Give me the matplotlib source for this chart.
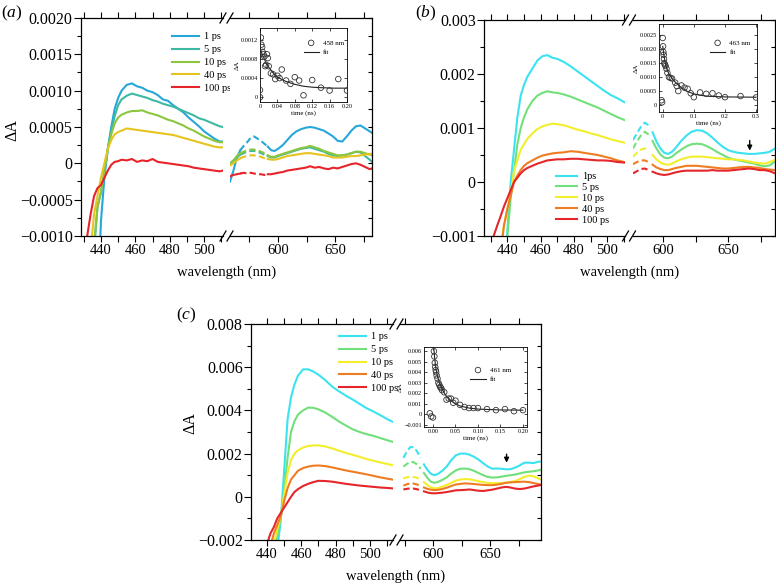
import numpy as np
import matplotlib
matplotlib.use('Agg')
import matplotlib.pyplot as plt
from matplotlib.lines import Line2D
from matplotlib.ticker import MultipleLocator

plt.rcParams['font.family'] = ['Liberation Serif', 'DejaVu Serif']
plt.rcParams['mathtext.fontset'] = 'custom'
plt.rcParams['mathtext.rm'] = 'Liberation Serif'
plt.rcParams['mathtext.it'] = 'Liberation Serif:italic'

# ---------------- data ----------------
delays = ['1 ps', '5 ps', '10 ps', '40 ps', '100 ps']
delays_b = ['1ps', '5 ps', '10 ps', '40 ps', '100 ps']
colors_a = ['#27a7d8', '#3db9a3', '#8cc63f', '#e6c41f', '#e8232a']
colors_bc = ['#3be3f0', '#72e07a', '#f2ee2c', '#f07c22', '#e5262b']

# panel (a)
wl_a_l = [432, 434, 436, 438, 440, 442, 444, 446, 448, 450, 452, 455, 458, 461, 464, 467, 470,
          473, 476, 479, 482, 485, 488, 491, 494, 497, 500, 503, 506, 509, 511]
a1_l = [-0.006, -0.005, -0.0035, -0.002, -0.0008, -0.0002, 0.0002, 0.0005, 0.00075, 0.0009, 0.001,
        0.00108, 0.0011, 0.00106, 0.00104, 0.001, 0.00098, 0.00094, 0.00088, 0.00086, 0.0008, 0.00075,
        0.0007, 0.00063, 0.00057, 0.00051, 0.00044, 0.00039, 0.00034, 0.0003, 0.0003]
a5_l = [-0.003, -0.0022, -0.0012, -0.0006, -0.0004, -0.0001, 0.0002, 0.00045, 0.00065, 0.0008, 0.00088,
        0.00093, 0.00096, 0.00094, 0.00092, 0.0009, 0.00087, 0.00085, 0.00082, 0.0008, 0.00078, 0.00075,
        0.00072, 0.00069, 0.00066, 0.00062, 0.0006, 0.00057, 0.00054, 0.00051, 0.0005]
a10_l = [-0.0025, -0.0018, -0.0011, -0.0006, -0.0004, -0.0001, 0.0002, 0.0004, 0.00055, 0.00063, 0.00067,
         0.0007, 0.00072, 0.00072, 0.00073, 0.0007, 0.00068, 0.00066, 0.00063, 0.0006, 0.00058, 0.00055,
         0.00052, 0.00048, 0.00045, 0.00041, 0.00037, 0.00034, 0.00031, 0.00029, 0.00029]
a40_l = [-0.0022, -0.0012, -0.0007, -0.00045, -0.0002, 0.0, 0.0002, 0.00032, 0.0004, 0.00043, 0.00045,
         0.00048, 0.00047, 0.00046, 0.00045, 0.00044, 0.00043, 0.00042, 0.00041, 0.0004, 0.00039, 0.00037,
         0.00035, 0.00033, 0.00031, 0.00029, 0.00027, 0.00025, 0.00023, 0.00022, 0.00022]
a100_l = [-0.001, -0.0007, -0.00045, -0.00034, -0.0003, -0.0002, -0.0001, -0.00002, 0.00002, 0.00003,
          0.00005, 0.00004, 0.00006, 0.00002, 0.00004, 0.00003, 0.00006, 0.00002, 0.00001, 0.0, -0.00001,
          -0.00002, -0.00003, -0.00004, -0.00006, -0.00007, -0.00008, -0.00009, -0.0001, -0.00011, -0.0001]

wl_a_r = [558, 561, 564, 567, 570, 573, 576, 579, 582, 585, 588, 591, 594, 597, 600, 604, 608, 612, 616,
          620, 624, 628, 632, 636, 640, 644, 648, 652, 656, 660, 664, 668, 672, 676, 680, 682]
a1_r = [-0.00025, -0.0001, 0.00008, 0.00018, 0.00024, 0.00029, 0.00035, 0.00037, 0.00034, 0.00031,
        0.00027, 0.00023, 0.00018, 0.00017, 0.0002, 0.00025, 0.00032, 0.00039, 0.00044, 0.00047, 0.00049,
        0.0005, 0.00049, 0.00047, 0.00045, 0.00041, 0.00037, 0.00031, 0.0003, 0.00037, 0.00045, 0.00051,
        0.00052, 0.00048, 0.00044, 0.00042]
a5_r = [0.0, 0.00004, 0.00008, 0.00012, 0.00014, 0.00016, 0.00017, 0.00017, 0.00016, 0.00014, 0.00012,
        0.0001, 0.00008, 0.00008, 0.0001, 0.00012, 0.00014, 0.00016, 0.00018, 0.0002, 0.00021, 0.00022,
        0.0002, 0.00018, 0.00016, 0.00013, 0.00011, 0.0001, 0.00011, 0.00012, 0.00014, 0.00016, 0.00015,
        0.0001, 0.00005, 0.00002]
a10_r = [-0.00001, 0.00004, 0.0001, 0.00014, 0.00016, 0.00018, 0.00019, 0.00019, 0.00018, 0.00016,
         0.00014, 0.00011, 0.00009, 0.00009, 0.00011, 0.00013, 0.00015, 0.00017, 0.00019, 0.00021, 0.00022,
         0.00024, 0.00022, 0.0002, 0.00017, 0.00015, 0.00013, 0.00011, 0.00011, 0.00012, 0.00014, 0.00016,
         0.00016, 0.00014, 0.00012, 0.00011]
a40_r = [-0.00003, 0.0, 0.00004, 0.00007, 0.00009, 0.0001, 0.00011, 0.00011, 0.0001, 0.00009, 0.00007,
         0.00006, 0.00005, 0.00005, 0.00006, 0.00008, 0.0001, 0.00011, 0.00012, 0.00013, 0.00014, 0.00014,
         0.00013, 0.00012, 0.00011, 0.0001, 0.00008, 0.00008, 0.00008, 0.00009, 0.0001, 0.0001, 0.00011,
         0.00012, 0.00013, 0.00013]
a100_r = [-0.00018, -0.00016, -0.00015, -0.00014, -0.00013, -0.00014, -0.00013, -0.00014, -0.00015,
          -0.00015, -0.00016, -0.00015, -0.00015, -0.00014, -0.00013, -0.00012, -0.0001, -0.00009, -0.00008,
          -0.00007, -0.00006, -0.00004, -0.00006, -0.00005, -0.00007, -0.00008, -0.00006, -0.00007, -0.00005,
          -0.00003, -0.00001, 0.0, -0.00002, -0.00005, -0.00008, -0.00007]

# panel (b)
wl_b_l = [430, 432, 434, 436, 438, 440, 442, 444, 446, 448, 450, 452, 455, 458, 461, 464, 467, 470,
          474, 478, 482, 486, 490, 494, 498, 502, 506, 510]
b1_l = [-0.008, -0.007, -0.0055, -0.004, -0.003, -0.0009, 0.0, 0.0006, 0.0012, 0.0016, 0.0018, 0.00195,
        0.0021, 0.00225, 0.00233, 0.00235, 0.0023, 0.00228, 0.00222, 0.00214, 0.00205, 0.00196, 0.00187,
        0.00178, 0.00169, 0.00161, 0.00155, 0.00148]
b5_l = [-0.005, -0.0042, -0.0033, -0.0025, -0.0017, -0.001, -0.0003, 0.0002, 0.0007, 0.001, 0.0012,
        0.00135, 0.0015, 0.0016, 0.00165, 0.00168, 0.00166, 0.00165, 0.00162, 0.00158, 0.00153, 0.00148,
        0.00143, 0.00138, 0.00132, 0.00126, 0.0012, 0.00115]
b10_l = [-0.003, -0.0024, -0.0018, -0.0012, -0.0008, -0.0005, -0.0002, 0.0002, 0.0004, 0.0006, 0.0007,
         0.0008, 0.0009, 0.00098, 0.00103, 0.00106, 0.00108, 0.00107, 0.00105, 0.00101, 0.00097, 0.00094,
         0.0009, 0.00087, 0.00083, 0.00079, 0.00076, 0.00073]
b40_l = [-0.0028, -0.0023, -0.0018, -0.0013, -0.0008, -0.0005, -0.00025, 0.0, 0.00012, 0.00022, 0.0003,
         0.00035, 0.0004, 0.00045, 0.00049, 0.00051, 0.00053, 0.00054, 0.00055, 0.00057, 0.00056, 0.00054,
         0.00052, 0.0005, 0.00047, 0.00044, 0.0004, 0.00037]
b100_l = [-0.0013, -0.00098, -0.0008, -0.00063, -0.00045, -0.0003, -0.00015, 0.0, 0.00008, 0.00016,
          0.00022, 0.00026, 0.0003, 0.00034, 0.00037, 0.0004, 0.00041, 0.00042, 0.00042, 0.00043, 0.00043,
          0.00042, 0.00041, 0.0004, 0.0004, 0.00039, 0.00037, 0.00036]

wl_b_r = [577, 580, 583, 586, 589, 592, 595, 598, 601, 604, 607, 610, 614, 618, 622, 626, 630, 634, 638,
          642, 646, 650, 654, 658, 662, 666, 670, 674, 678, 682, 686]
b1_r = [0.00078, 0.0009, 0.00102, 0.0011, 0.00105, 0.00092, 0.00075, 0.00062, 0.00054, 0.00052, 0.00056,
        0.00064, 0.00076, 0.00086, 0.00093, 0.00096, 0.00095, 0.0009, 0.00082, 0.00073, 0.00065, 0.00059,
        0.00056, 0.00054, 0.00053, 0.00052, 0.00052, 0.00053, 0.00054, 0.00056, 0.00062]
b5_r = [0.00062, 0.00075, 0.00086, 0.00093, 0.00088, 0.00076, 0.00062, 0.00051, 0.00045, 0.00044, 0.00047,
        0.00053, 0.0006, 0.00066, 0.0007, 0.00071, 0.0007, 0.00066, 0.00061, 0.00055, 0.0005, 0.00045,
        0.00042, 0.0004, 0.00038, 0.00036, 0.00034, 0.00031, 0.00029, 0.00031, 0.00038]
b10_r = [0.00047, 0.00054, 0.0006, 0.00062, 0.00058, 0.0005, 0.00042, 0.00036, 0.00033, 0.00032, 0.00034,
         0.00038, 0.00042, 0.00045, 0.00047, 0.00047, 0.00047, 0.00046, 0.00045, 0.00044, 0.00043, 0.00042,
         0.00042, 0.00041, 0.0004, 0.00038, 0.00036, 0.00035, 0.00034, 0.00037, 0.00041]
b40_r = [0.00033, 0.00037, 0.0004, 0.0004, 0.00037, 0.00032, 0.00027, 0.00024, 0.00022, 0.00022, 0.00024,
         0.00026, 0.00028, 0.0003, 0.0003, 0.0003, 0.00029, 0.00028, 0.00027, 0.00026, 0.00025, 0.00025,
         0.00026, 0.00027, 0.00028, 0.00028, 0.00027, 0.00026, 0.00024, 0.00023, 0.00022]
b100_r = [0.00016, 0.0002, 0.00024, 0.00025, 0.00022, 0.00019, 0.00016, 0.00014, 0.00013, 0.00014, 0.00016,
          0.00018, 0.0002, 0.00021, 0.00021, 0.00021, 0.00021, 0.00021, 0.00022, 0.00021, 0.00021, 0.00021,
          0.00022, 0.00023, 0.00024, 0.00025, 0.00024, 0.00022, 0.00022, 0.0002, 0.00016]

# panel (c)
wl_c_l = [438, 440, 442, 444, 446, 448, 450, 452, 454, 456, 458, 461, 464, 467, 470, 474, 478, 482, 486,
          490, 494, 498, 502, 506, 510, 513]
c1_l = [-0.01, -0.008, -0.006, -0.004, -0.0025, -0.0011, 0.0012, 0.0036, 0.0046, 0.0052, 0.0056, 0.0059,
        0.0059, 0.0058, 0.00565, 0.0054, 0.0051, 0.00488, 0.00468, 0.0045, 0.0043, 0.0041, 0.00395, 0.00378,
        0.0036, 0.00348]
c5_l = [-0.008, -0.006, -0.0045, -0.003, -0.0018, -0.001, 0.0003, 0.0018, 0.003, 0.0035, 0.0038, 0.004,
        0.00413, 0.00412, 0.00405, 0.0039, 0.0037, 0.00348, 0.0033, 0.00312, 0.003, 0.0029, 0.00282,
        0.00272, 0.00262, 0.00255]
c10_l = [-0.006, -0.0045, -0.0033, -0.0022, -0.0015, -0.0009, 0.0001, 0.0011, 0.0017, 0.002, 0.00215,
         0.00228, 0.00235, 0.00238, 0.00238, 0.00233, 0.00224, 0.00213, 0.00203, 0.00194, 0.00185, 0.00175,
         0.00167, 0.00159, 0.00152, 0.00147]
c40_l = [-0.0045, -0.0034, -0.0023, -0.0017, -0.0013, -0.0009, -0.0002, 0.0004, 0.0008, 0.001, 0.0012,
         0.00133, 0.0014, 0.00144, 0.00145, 0.00142, 0.00136, 0.00129, 0.00122, 0.00116, 0.0011, 0.00104,
         0.00097, 0.0009, 0.00084, 0.0008]
c100_l = [-0.003, -0.0022, -0.0017, -0.0014, -0.001, -0.00075, -0.0005, -0.00025, 0.0, 0.00022, 0.00035,
          0.0005, 0.0006, 0.00068, 0.00074, 0.00073, 0.0007, 0.00065, 0.0006, 0.00056, 0.00052, 0.00049,
          0.00046, 0.00043, 0.00041, 0.00039]

wl_c_r = [571, 574, 577, 580, 583, 586, 589, 592, 595, 598, 601, 604, 608, 612, 616, 620, 624, 628, 632,
          636, 640, 644, 648, 652, 656, 660, 664, 668, 672, 676, 680, 684, 688, 692, 694]
c1_r = [0.0015, 0.0018, 0.0021, 0.0023, 0.0023, 0.0021, 0.0018, 0.0015, 0.00125, 0.00107, 0.001, 0.00105,
        0.0012, 0.0014, 0.0017, 0.00192, 0.002, 0.002, 0.00195, 0.00185, 0.00172, 0.00155, 0.0014, 0.0013,
        0.00131, 0.0013, 0.00127, 0.00128, 0.00135, 0.00145, 0.00158, 0.00158, 0.00156, 0.00162, 0.00163]
c5_r = [0.00124, 0.0014, 0.00152, 0.00162, 0.0016, 0.0015, 0.0013, 0.0011, 0.00088, 0.0007, 0.00065,
        0.00068, 0.00078, 0.0009, 0.00108, 0.00122, 0.0013, 0.00131, 0.00128, 0.0012, 0.0011, 0.001, 0.00092,
        0.00089, 0.0009, 0.00093, 0.00097, 0.001, 0.00103, 0.00108, 0.00113, 0.00116, 0.00118, 0.00122,
        0.00124]
c10_r = [0.00077, 0.00085, 0.0009, 0.00093, 0.00092, 0.00088, 0.0008, 0.00068, 0.00055, 0.00044, 0.00039,
         0.0004, 0.00047, 0.00055, 0.00065, 0.00075, 0.0008, 0.00082, 0.00081, 0.00077, 0.00072, 0.00068,
         0.00064, 0.00063, 0.00063, 0.00064, 0.00065, 0.00068, 0.00073, 0.00082, 0.00092, 0.00098, 0.00095,
         0.00086, 0.00082]
c40_r = [0.00046, 0.00052, 0.00058, 0.00062, 0.00061, 0.00057, 0.0005, 0.00043, 0.00037, 0.00033, 0.00031,
         0.00032, 0.00036, 0.00042, 0.0005, 0.00057, 0.0006, 0.00062, 0.00061, 0.00059, 0.00057, 0.00055,
         0.00054, 0.00054, 0.00056, 0.0006, 0.00065, 0.00067, 0.00068, 0.00069, 0.0007, 0.00068, 0.00064,
         0.00059, 0.00057]
c100_r = [0.00031, 0.00034, 0.00037, 0.00039, 0.00038, 0.00035, 0.0003, 0.00025, 0.0002, 0.00017, 0.00016,
          0.00017, 0.00019, 0.00022, 0.00026, 0.0003, 0.00031, 0.00032, 0.00034, 0.00031, 0.00028, 0.00027,
          0.0003, 0.00033, 0.00038, 0.00043, 0.00046, 0.00043, 0.00038, 0.00036, 0.00038, 0.00043, 0.00048,
          0.00052, 0.00054]

# kinetics insets
ins_a_t = [0, 0, 0.002, 0.003, 0.005, 0.006, 0.008, 0.01, 0.012, 0.014, 0.016, 0.018, 0.02, 0.025, 0.03,
           0.035, 0.04, 0.045, 0.05, 0.06, 0.07, 0.08, 0.09, 0.1, 0.12, 0.14, 0.16, 0.18, 0.2]
ins_a_v = [0.00015, 0.0, 0.00125, 0.0011, 0.00105, 0.00095, 0.0009, 0.00085, 0.00065, 0.00068, 0.0009,
           0.00082, 0.00065, 0.0005, 0.00048, 0.00038, 0.00045, 0.0004, 0.00058, 0.00035, 0.00028, 0.00042,
           0.00035, 0.00004, 0.00036, 0.0002, 0.00014, 0.00038, 0.00014]
fit_a_t = [0, 0.005, 0.01, 0.015, 0.02, 0.03, 0.04, 0.05, 0.06, 0.08, 0.1, 0.12, 0.14, 0.17, 0.2]
fit_a_v = [0.00103, 0.0009, 0.0008, 0.0007, 0.00063, 0.00051, 0.00043, 0.00037, 0.00033, 0.00027,
           0.00023, 0.00021, 0.0002, 0.00019, 0.00019]

ins_b_t = [-0.004, -0.002, 0.0, 0.001, 0.002, 0.003, 0.004, 0.005, 0.007, 0.009, 0.012, 0.015, 0.02,
           0.025, 0.03, 0.04, 0.045, 0.05, 0.06, 0.07, 0.08, 0.09, 0.1, 0.12, 0.14, 0.16, 0.18, 0.2, 0.25, 0.3]
ins_b_v = [0.00017, 0.0001, 0.0024, 0.0021, 0.0019, 0.0018, 0.00165, 0.0015, 0.00145, 0.0014, 0.0013,
           0.00115, 0.001, 0.00097, 0.00095, 0.0008, 0.00068, 0.0005, 0.0007, 0.00062, 0.00058, 0.00042,
           0.00028, 0.00045, 0.0004, 0.00042, 0.00034, 0.00028, 0.00032, 0.00027]
fit_b_t = [0, 0.005, 0.01, 0.02, 0.03, 0.04, 0.06, 0.08, 0.1, 0.12, 0.15, 0.2, 0.3]
fit_b_v = [0.0021, 0.0017, 0.0014, 0.0011, 0.00095, 0.00082, 0.00062, 0.00048, 0.0004, 0.00035, 0.00031,
           0.00029, 0.00028]

ins_c_t = [-0.007, -0.004, 0.0, 0.002, 0.003, 0.004, 0.005, 0.006, 0.007, 0.008, 0.01, 0.012, 0.014,
           0.016, 0.018, 0.02, 0.025, 0.03, 0.035, 0.04, 0.045, 0.05, 0.06, 0.07, 0.08, 0.09, 0.1, 0.12,
           0.14, 0.16, 0.18, 0.2]
ins_c_v = [0.0001, -0.0002, -0.0003, 0.006, 0.0055, 0.0049, 0.0045, 0.0042, 0.004, 0.0037, 0.0034, 0.003,
           0.0028, 0.0026, 0.0025, 0.0023, 0.0021, 0.0014, 0.0015, 0.0015, 0.0011, 0.0013, 0.0009, 0.0007,
           0.0006, 0.0006, 0.0006, 0.0005, 0.0004, 0.0005, 0.0003, 0.0004]
fit_c_t = [0.002, 0.004, 0.007, 0.01, 0.015, 0.02, 0.03, 0.04, 0.05, 0.06, 0.08, 0.1, 0.15, 0.2]
fit_c_v = [0.0062, 0.0052, 0.0042, 0.0036, 0.0029, 0.0024, 0.0017, 0.0013, 0.001, 0.0008, 0.0006, 0.0005,
           0.00042, 0.0004]

# ---------------- layout helpers (pixel boxes) ----------------
W, H = 776, 583
fig = plt.figure(figsize=(W / 100, H / 100), dpi=100)


def box(x0, x1, y0, y1):
    return [x0 / W, 1 - y1 / H, (x1 - x0) / W, (y1 - y0) / H]


def slash(xc, yc):
    for dx in (-3.5, 3.5):
        fig.add_artist(Line2D([(xc + dx - 3) / W, (xc + dx + 3) / W],
                              [1 - (yc + 5) / H, 1 - (yc - 5) / H], color='k', lw=0.9))


def panel(bl, br, xl, xr, ylim, yt, ylab, ymin, wl_l, wl_r, ser_l, ser_r, cols, dash):
    ax_l = fig.add_axes(box(*bl))
    ax_r = fig.add_axes(box(*br))
    wl_r = np.array(wl_r)
    m1 = wl_r <= dash[0]
    m2 = (wl_r >= dash[0]) & (wl_r <= dash[1])
    m3 = wl_r >= dash[1]
    lines = []
    for vl, vr, c in zip(ser_l, ser_r, cols):
        ln, = ax_l.plot(wl_l, vl, color=c, lw=1.5)
        lines.append(ln)
        vr = np.array(vr)
        ax_r.plot(wl_r[m1], vr[m1], color=c, lw=1.5)
        ax_r.plot(wl_r[m2], vr[m2], color=c, lw=1.5, ls=(0, (3, 1.6)))
        ax_r.plot(wl_r[m3], vr[m3], color=c, lw=1.5)
    ax_l.set_xlim(*xl)
    ax_r.set_xlim(*xr)
    for ax in (ax_l, ax_r):
        ax.set_ylim(*ylim)
        ax.tick_params(direction='out', length=4, width=0.8, labelsize=10.5, top=True, pad=2)
        ax.tick_params(which='minor', direction='out', length=4, width=0.8, top=True)
        for s in ax.spines.values():
            s.set_linewidth(0.9)
    ax_l.set_xticks([440, 460, 480, 500])
    ax_l.xaxis.set_minor_locator(MultipleLocator(10))
    ax_r.set_xticks([600, 650])
    ax_r.xaxis.set_minor_locator(MultipleLocator(25))
    ax_l.set_yticks(yt)
    ax_l.set_yticklabels(ylab)
    ax_l.yaxis.set_minor_locator(MultipleLocator(ymin))
    ax_l.tick_params(axis='y', which='major', length=5, labelsize=11.5, pad=1)
    ax_l.tick_params(axis='y', which='minor', length=3)
    ax_l.spines['right'].set_visible(False)
    ax_r.spines['left'].set_visible(False)
    ax_r.tick_params(axis='y', which='both', left=False, labelleft=False, right=True, direction='in', length=3)
    ax_r.set_yticks(yt)
    ax_r.yaxis.set_minor_locator(MultipleLocator(ymin))
    xc = (bl[1] + br[0]) / 2
    slash(xc, bl[2])
    slash(xc, bl[3])
    fig.text((bl[0] + br[1]) / 2 / W, 1 - (bl[3] + 36) / H, 'wavelength (nm)', ha='center', va='center',
             fontsize=10.5)
    return ax_l, ax_r, lines


def inset(b, t, v, ft, fv, xlim, ylim, xt, xtl, yt, ytl, label, leg_anchor):
    ax = fig.add_axes(box(*b))
    ax.scatter(t, v, s=16, facecolors='none', edgecolors='#333333', linewidths=0.6, clip_on=True,
               label=label, zorder=3)
    ax.plot(ft, fv, color='#222222', lw=0.8, label='fit')
    ax.set_xlim(*xlim)
    ax.set_ylim(*ylim)
    ax.set_xticks(xt)
    ax.set_xticklabels(xtl)
    ax.set_yticks(yt)
    ax.set_yticklabels(ytl)
    ax.tick_params(direction='in', length=2, width=0.5, labelsize=4.5, top=True, right=True, pad=1.5)
    for s in ax.spines.values():
        s.set_linewidth(0.6)
    ax.set_xlabel('time (ns)', fontsize=5, labelpad=1)
    ax.set_ylabel('ΔA', fontsize=5, labelpad=1)
    ax.legend(loc='upper left', bbox_to_anchor=leg_anchor, frameon=False, fontsize=5, handlelength=2.2,
              handletextpad=0.6, labelspacing=0.5, borderpad=0, borderaxespad=0, markerscale=1.0)
    return ax


# ---------------- panel (a) ----------------
ax_al, ax_ar, lines_a = panel((81, 223, 18, 236), (230, 372, 18, 236), (428.4, 511), (558, 682),
                              (-0.001, 0.002), [-0.001, -0.0005, 0, 0.0005, 0.001, 0.0015, 0.002],
                              ['−0.0010', '−0.0005', '0', '0.0005', '0.0010', '0.0015', '0.0020'], 0.00025,
                              wl_a_l, wl_a_r, [a1_l, a5_l, a10_l, a40_l, a100_l],
                              [a1_r, a5_r, a10_r, a40_r, a100_r], colors_a, (567, 591))
ax_al.legend(lines_a, delays, loc='upper left', bbox_to_anchor=(172 / W, 1 - 32 / H),
             bbox_transform=fig.transFigure, frameon=False, fontsize=7.5, handlelength=2.6,
             handletextpad=0.5, labelspacing=0.35, borderpad=0, borderaxespad=0)
fig.text(12 / W, 1 - 130 / H, 'ΔA', rotation=90, ha='center', va='center', fontsize=11.5)
fig.text(1 / W, 1 - 13 / H, r'($\it{a}$)', ha='left', va='center', fontsize=12.5)
inset((260, 347, 28, 102), ins_a_t, ins_a_v, fit_a_t, fit_a_v, (0, 0.2), (-0.0001, 0.00145),
      [0, 0.04, 0.08, 0.12, 0.16, 0.2], ['0', '0.04', '0.08', '0.12', '0.16', '0.20'],
      [0, 0.0004, 0.0008, 0.0012], ['0', '0.0004', '0.0008', '0.0012'], '458 nm', (0.5, 0.84))

# ---------------- panel (b) ----------------
ax_bl, ax_br, lines_b = panel((484, 625, 20, 236), (633, 775, 20, 236), (426, 510.5), (577, 686),
                              (-0.001, 0.003), [-0.001, 0, 0.001, 0.002, 0.003],
                              ['−0.001', '0', '0.001', '0.002', '0.003'], 0.0005,
                              wl_b_l, wl_b_r, [b1_l, b5_l, b10_l, b40_l, b100_l],
                              [b1_r, b5_r, b10_r, b40_r, b100_r], colors_bc, (577, 591))
ax_bl.legend(lines_b, delays_b, loc='upper left', bbox_to_anchor=(556 / W, 1 - 172 / H),
             bbox_transform=fig.transFigure, frameon=False, fontsize=7.5, handlelength=2.0,
             handletextpad=0.5, labelspacing=0.15, borderpad=0, borderaxespad=0)
ax_br.annotate('', xy=(666.6, 0.00053), xytext=(666.6, 0.00082),
               arrowprops=dict(arrowstyle='-|>', color='k', lw=1.0, mutation_scale=7))
fig.text(415 / W, 1 - 13 / H, r'($\it{b}$)', ha='left', va='center', fontsize=12.5)
inset((659, 757, 24, 112), ins_b_t, ins_b_v, fit_b_t, fit_b_v, (-0.012, 0.303), (-0.00025, 0.0029),
      [0, 0.1, 0.2, 0.3], ['0', '0.1', '0.2', '0.3'],
      [0, 0.0005, 0.001, 0.0015, 0.002, 0.0025], ['0', '0.0005', '0.0010', '0.0015', '0.0020', '0.0025'],
      '463 nm', (0.52, 0.82))

# ---------------- panel (c) ----------------
ax_cl, ax_cr, lines_c = panel((251, 393, 324, 540), (400, 541, 324, 540), (430.7, 513.4), (571, 694.7),
                              (-0.002, 0.008), [-0.002, 0, 0.002, 0.004, 0.006, 0.008],
                              ['−0.002', '0', '0.002', '0.004', '0.006', '0.008'], 0.001,
                              wl_c_l, wl_c_r, [c1_l, c5_l, c10_l, c40_l, c100_l],
                              [c1_r, c5_r, c10_r, c40_r, c100_r], colors_bc, (573, 591))
ax_cl.legend(lines_c, delays, loc='upper left', bbox_to_anchor=(339 / W, 1 - 332 / H),
             bbox_transform=fig.transFigure, frameon=False, fontsize=7.5, handlelength=2.6,
             handletextpad=0.5, labelspacing=0.35, borderpad=0, borderaxespad=0)
ax_cr.annotate('', xy=(664.5, 0.00145), xytext=(664.5, 0.0021),
               arrowprops=dict(arrowstyle='-|>', color='k', lw=1.0, mutation_scale=7))
fig.text(190 / W, 1 - 423 / H, 'ΔA', rotation=90, ha='center', va='center', fontsize=11.5)
fig.text(176 / W, 1 - 315 / H, r'($\it{c}$)', ha='left', va='center', fontsize=12.5)
inset((424, 527, 347, 427), ins_c_t, ins_c_v, fit_c_t, fit_c_v, (-0.02, 0.209), (-0.0012, 0.0064),
      [0, 0.05, 0.1, 0.15, 0.2], ['0.00', '0.05', '0.10', '0.15', '0.20'],
      [-0.001, 0, 0.001, 0.002, 0.003, 0.004, 0.005, 0.006],
      ['−0.001', '0', '0.001', '0.002', '0.003', '0.004', '0.005', '0.006'], '461 nm', (0.45, 0.75))

fig.savefig('out.png', dpi=100)
